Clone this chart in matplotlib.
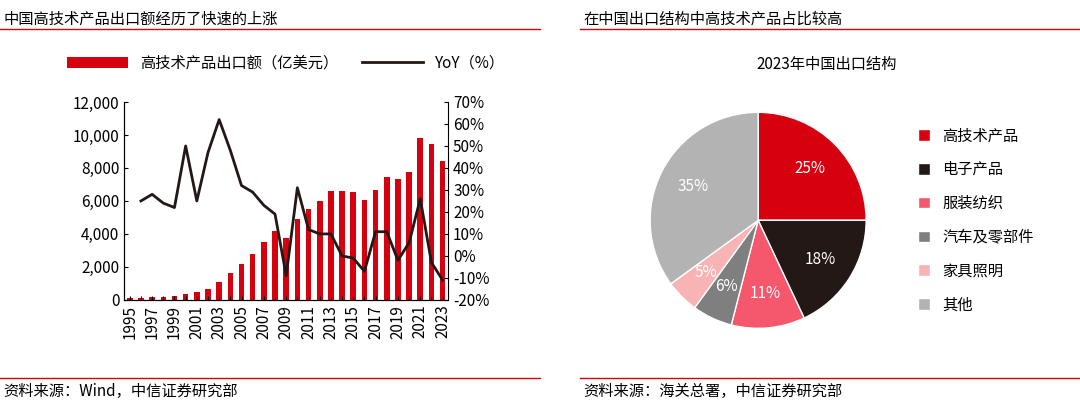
import matplotlib.pyplot as plt
import numpy as np
from matplotlib.lines import Line2D

plt.rcParams["font.family"] = ["Noto Sans CJK SC"]

years = list(range(1995, 2024))
exports = [100, 130, 160, 200, 250, 370, 460, 680, 1100, 1650, 2180, 2810, 3480, 4160,
           3770, 4920, 5490, 6010, 6600, 6600, 6550, 6040, 6680, 7430, 7310, 7760,
           9800, 9470, 8430]
yoy_years = years[1:]
yoy = [25, 28, 24, 22, 50, 25, 47, 62, 48, 32, 29, 23, 19, -9, 31, 12, 10, 10, 0, -1,
       -7, 11, 11, -2, 6, 26, -3, -11]

pie_labels = ["高技术产品", "电子产品", "服装纺织", "汽车及零部件", "家具照明", "其他"]
pie_vals = [25, 18, 11, 6, 5, 35]
pie_colors = ["#d7000f", "#231815", "#f5576c", "#7f7f7f", "#f8b4b4", "#b3b3b3"]

RED = "#d7000f"
fig = plt.figure(figsize=(10.8, 4.08), dpi=100)

# headers / footers
fig.text(0.003, 0.975, "中国高技术产品出口额经历了快速的上涨", fontsize=11, va="top")
fig.text(0.54, 0.975, "在中国出口结构中高技术产品占比较高", fontsize=11, va="top")
fig.text(0.003, 0.02, "资料来源：Wind，中信证券研究部", fontsize=11, va="bottom")
fig.text(0.54, 0.02, "资料来源：海关总署，中信证券研究部", fontsize=11, va="bottom")
for x0, x1 in [(0.0, 0.5), (0.537, 1.0)]:
    fig.add_artist(Line2D([x0, x1], [0.928, 0.928], color=RED, lw=1))
    fig.add_artist(Line2D([x0, x1], [0.073, 0.073], color=RED, lw=1))

ax = fig.add_axes([0.115, 0.265, 0.3, 0.485])
ax.bar(years, exports, width=0.5, color=RED, label="高技术产品出口额（亿美元）")
ax.set_ylim(0, 12000)
ax.set_yticks(range(0, 12001, 2000))
ax.set_yticklabels([f"{v:,}" for v in range(0, 12001, 2000)])
ax.set_xlim(1994.5, 2023.5)
ax.set_xticks(years)
ax.set_xticklabels([str(y) if (y - 1995) % 2 == 0 else "" for y in years], rotation=90)
ax.tick_params(labelsize=11, direction="in", length=3)
for s in ["top", "right"]:
    ax.spines[s].set_visible(False)
ax2 = ax.twinx()
ax2.plot(yoy_years, yoy, color="#231815", lw=2, label="YoY（%）")
ax2.set_ylim(-20, 70)
ax2.set_yticks(range(-20, 71, 10))
ax2.set_yticklabels([f"{v}%" for v in range(-20, 71, 10)])
ax2.tick_params(labelsize=11, direction="in", length=3)
ax2.spines["top"].set_visible(False)
h1, l1 = ax.get_legend_handles_labels()
h2, l2 = ax2.get_legend_handles_labels()
fig.legend(h1 + h2, l1 + l2, loc="center", bbox_to_anchor=(0.265, 0.845), ncol=2,
           frameon=False, fontsize=11, handlelength=4, columnspacing=1.5)

fig.text(0.765, 0.83, "2023年中国出口结构", fontsize=11, ha="center")
pax = fig.add_axes([0.577, 0.12, 0.25, 0.68])
wedges, texts = pax.pie(pie_vals, colors=pie_colors, startangle=90, counterclock=False,
                        wedgeprops=dict(edgecolor="white", linewidth=1))
for w, v in zip(wedges, pie_vals):
    ang = np.deg2rad((w.theta1 + w.theta2) / 2)
    r = 0.68
    pax.text(r * np.cos(ang), r * np.sin(ang), f"{v}%", ha="center", va="center",
             fontsize=11, color="white")
pax.legend(wedges, pie_labels, loc="center left", bbox_to_anchor=(1.04, 0.5),
           frameon=False, fontsize=11, handlelength=0.8, handleheight=0.8, labelspacing=1.1)

fig.savefig("out.png", dpi=100)
